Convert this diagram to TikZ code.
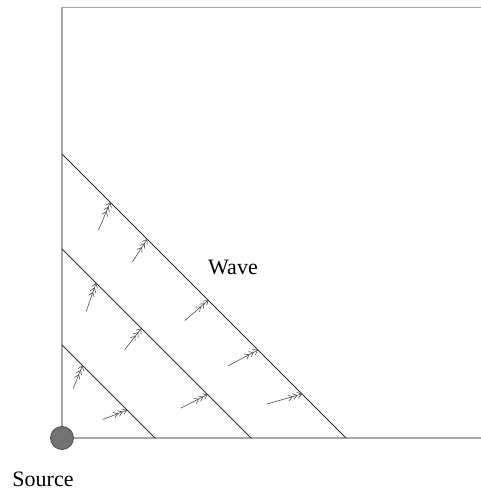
\documentclass[tikz,border=0pt]{standalone}
\usepackage{fontspec}
\setmainfont{Liberation Serif}
\usetikzlibrary{arrows.meta,calc}

\begin{document}
\begin{tikzpicture}[x=1pt,y=1pt,
        frame/.style={draw=black!35, line width=1.6pt},
        front/.style={draw=black!80, line width=0.9pt},
        ray/.style={draw=black!70, line width=0.6pt,
            -{Straight Barb[length=4pt,width=6pt]Straight Barb[length=4pt,width=6pt]Straight Barb[length=4pt,width=6pt]}},
        lbl/.style={font=\fontsize{22}{26}\selectfont, inner sep=0pt}]

        \useasboundingbox (-62,-55) rectangle (419,438);

        % the box with the source at its corner
        \coordinate (tl) at (0,430.5);
        \coordinate (tr) at (419,430.5);
        \coordinate (br) at (419,0);
        \draw[frame] (tr) -- (tl) -- (0,0) -- (br);
        \node[fill=black!55, draw=black!70, line width=0.8pt, circle, minimum size=23pt, inner sep=0pt] (src) at (0,0) {};

        % wave fronts
        \foreach \d/\n in {93/1, 189/2, 284/3} {
            \coordinate (w\n a) at (0,\d);
            \coordinate (w\n b) at (\d,0);
            \draw[front] (w\n a) -- (w\n b);
        }

        % rays towards the fronts (tip fraction, angle, length)
        \foreach \d/\t/\a/\l in {93/0.22/68/25, 93/0.70/21/26,
                           189/0.18/71/30, 189/0.42/52/27, 189/0.77/27/30,
                           284/0.17/67/30, 284/0.30/57/27, 284/0.515/41/31,
                           284/0.69/28/34, 284/0.845/16/37} {
            \coordinate (tip) at ({\t*\d},{(1-\t)*\d});
            \coordinate (tail) at ($(tip)+(\a+180:\l)$);
            \draw[ray] (tail) -- (tip);
        }

        % labels
        \node[lbl] (wave) at (171,171) {Wave};
        \node[lbl] (srclbl) at (-19,-41) {Source};

    \end{tikzpicture}
\end{document}
